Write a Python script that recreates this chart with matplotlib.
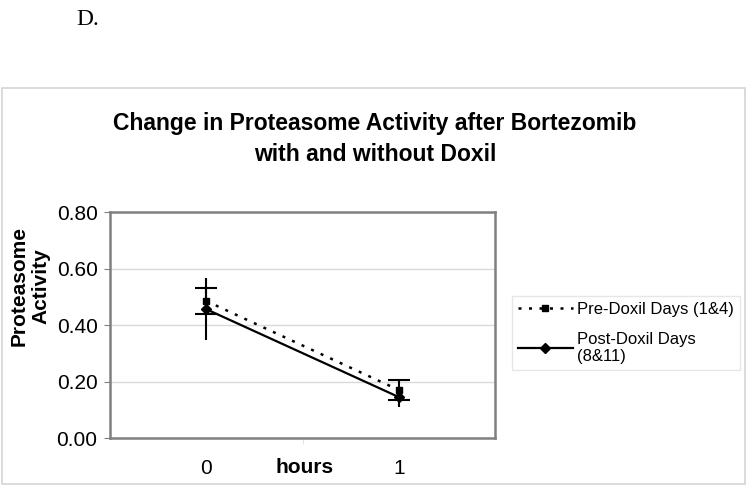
import matplotlib.pyplot as plt
from matplotlib.patches import Rectangle
from matplotlib.lines import Line2D

hours = [0, 1]
tick_labels = ['0', '1']
pre_doxil = [0.485, 0.170]
pre_err = [0.047, 0.034]
post_doxil = [0.456, 0.145]
post_err = [0.110, 0.036]

plt.rcParams['font.family'] = ['Liberation Sans', 'DejaVu Sans']

fig = plt.figure(figsize=(7.48, 4.86), dpi=100)

# outer chart frame
fig.patches.append(Rectangle((2 / 748, 2 / 486), 743 / 748, 396 / 486,
                             transform=fig.transFigure, fill=False,
                             edgecolor='#d4d4d4', linewidth=1.2))

fig.text(76 / 748, 1 - 25 / 486, 'D.', family='Liberation Serif', fontsize=17)

fig.text(375 / 748, 1 - 139 / 486,
         'Change in Proteasome Activity after Bortezomib\nwith and without Doxil',
         ha='center', va='center', fontsize=16.5, fontweight='bold', linespacing=1.4)

ax = fig.add_axes([110 / 748, 48 / 486, 385 / 748, 226 / 486])

ax.errorbar(hours, pre_doxil, yerr=pre_err, color='black', linestyle=(0, (1.2, 3)),
            linewidth=1.8, marker='s', markersize=5, capsize=8, capthick=1.5,
            elinewidth=1.5, zorder=3)
ax.errorbar(hours, post_doxil, yerr=post_err, color='black', linestyle='-',
            linewidth=1.6, marker='D', markersize=5, capsize=0,
            elinewidth=1.5, zorder=3)

ax.set_xlim(-0.5, 1.5)
ax.set_ylim(0, 0.8)
ax.set_yticks([0, 0.2, 0.4, 0.6, 0.8])
ax.set_yticklabels(['0.00', '0.20', '0.40', '0.60', '0.80'], fontsize=15)
ax.set_xticks(hours)
ax.set_xticklabels(tick_labels, fontsize=15)
ax.set_xticks([0.5], minor=True)
ax.tick_params(axis='x', which='major', length=0, pad=15)
ax.tick_params(axis='x', which='minor', length=4, color='#dddddd')
ax.tick_params(axis='y', length=4, color='#808080', pad=5)
ax.grid(axis='y', color='#d9d9d9', linewidth=1)
ax.set_axisbelow(True)
for s in ax.spines.values():
    s.set_color('#808080')
    s.set_linewidth(1.8)

fig.text(305 / 748, 1 - 467 / 486, 'hours', ha='center', va='center',
         fontsize=15, fontweight='bold')
fig.text(30 / 748, 1 - 286 / 486, 'Proteasome\nActivity', rotation=90,
         ha='center', va='center', fontsize=15, fontweight='bold', linespacing=1.15)

handles = [
    Line2D([], [], color='black', linestyle=(0, (1.2, 3)), linewidth=1.8,
           marker='s', markersize=5),
    Line2D([], [], color='black', linestyle='-', linewidth=1.6,
           marker='D', markersize=5),
]
labels = ['Pre-Doxil Days (1&4)', 'Post-Doxil Days\n(8&11)']
leg = ax.legend(handles, labels, loc='center left',
                bbox_to_anchor=(512 / 748, 1 - 333 / 486),
                bbox_transform=fig.transFigure, fontsize=12, frameon=True,
                fancybox=False, edgecolor='#e0e0e0', handlelength=3.3,
                borderpad=0.35, labelspacing=0.9, handletextpad=0.25,
                borderaxespad=0)
leg.get_frame().set_linewidth(1)

fig.savefig('out.png', dpi=100)
